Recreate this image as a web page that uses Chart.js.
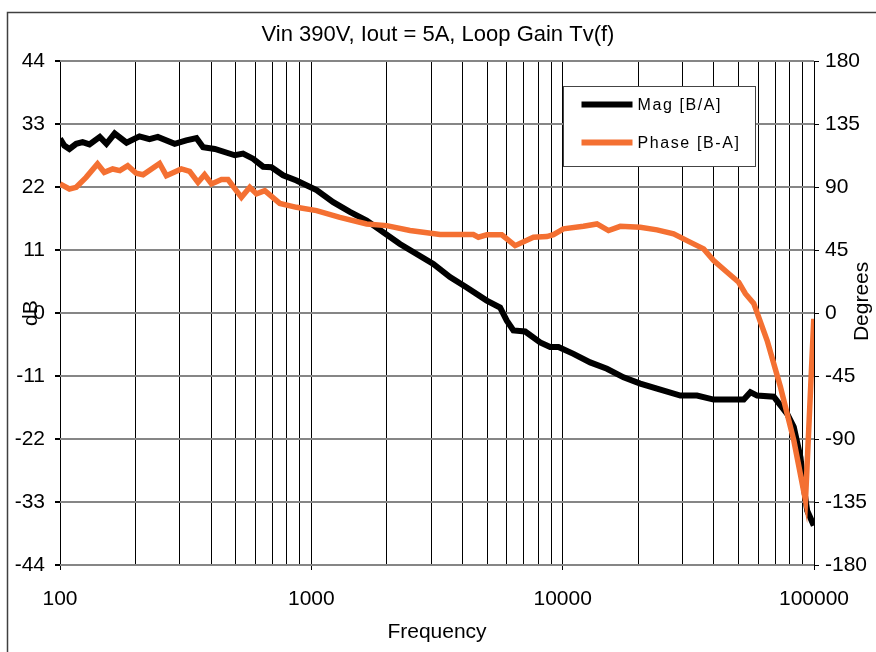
<!DOCTYPE html>
<html>
<head>
<meta charset="utf-8">
<script src="https://cdn.jsdelivr.net/npm/chart.js@4.4.1/dist/chart.umd.min.js"></script>
<style>
  html, body { margin: 0; padding: 0; background: #fff; }
  canvas { display: block; }
</style>
</head>
<body>
<canvas id="loopGain" width="876" height="652"></canvas>
<script>
// Loop gain Tv(f), Vin 390V, Iout 5A

const magFreq = [100, 104, 109, 116, 123, 131, 144, 153, 165, 184,
	207, 227, 245, 286, 318, 349, 371, 413, 496, 535,
	586, 643, 694, 772, 873, 1049, 1222, 1424, 1660, 2252,
	3057, 3563, 4153, 4989, 5636, 5995, 6368, 7090, 8137, 8917,
	9622, 11040, 12870, 15000, 17470, 20360, 23730, 29390, 34240, 39880,
	52530, 55850, 59380, 69150, 78200, 83100, 88370, 91080, 93960, 99800];
const magDb = [30.5, 29.3, 28.7, 29.6, 29.9, 29.5, 30.8, 29.6, 31.4, 29.8,
	30.9, 30.4, 30.8, 29.6, 30.2, 30.6, 29.0, 28.7, 27.6, 27.9,
	27.0, 25.6, 25.5, 24.1, 23.2, 21.5, 19.4, 17.7, 16.2, 12.1,
	8.6, 6.3, 4.5, 2.2, 1.0, -1.3, -3.0, -3.2, -5.1, -5.9,
	-5.9, -7.1, -8.6, -9.7, -11.2, -12.3, -13.2, -14.4, -14.4, -15.1,
	-15.1, -13.8, -14.4, -14.6, -17.6, -19.9, -25.2, -30.4, -34.5, -37.1];

const phaseFreq = [100, 109, 116, 127, 141, 150, 162, 173, 186, 201,
	214, 249, 265, 304, 328, 354, 376, 401, 439, 466,
	527, 569, 605, 653, 749, 873, 1049, 1299, 1660, 1994,
	2469, 3251, 4413, 4619, 4989, 5726, 6469, 7649, 8651, 9190,
	10070, 12100, 13690, 15220, 16950, 20360, 23730, 27630, 31240, 36390,
	39880, 45110, 50170, 53340, 57570, 65100, 73550, 83100, 92500, 99800];
const phaseDeg = [92.4, 88.8, 90.0, 97.1, 106.7, 100.7, 103.1, 101.9, 105.5, 100.0,
	99.0, 107.1, 98.3, 103.1, 101.4, 93.5, 99.0, 92.4, 95.5, 95.5,
	82.8, 90.0, 85.3, 87.6, 78.5, 75.7, 73.3, 68.5, 63.8, 62.6,
	59.1, 56.2, 56.2, 54.3, 56.0, 56.0, 48.3, 54.3, 54.8, 56.2,
	60.3, 62.1, 63.8, 59.1, 62.1, 61.4, 59.6, 56.7, 51.9, 46.0,
	37.6, 29.3, 22.1, 13.9, 7.0, -19.5, -52.8, -90.9, -133.8, -4.0];

const freqDecades = [100, 1000, 10000, 100000];
const dbTicks = [-44, -33, -22, -11, 0, 11, 22, 33, 44];
const degTicks = [-180, -135, -90, -45, 0, 45, 90, 135, 180];

const FONT = '"Liberation Sans", Arial, sans-serif';
const ORANGE = "#F47032";

Chart.defaults.font.family = FONT;
Chart.defaults.font.size = 21;
Chart.defaults.color = "#000";

const extrasPlugin = {
	id: "extras",
	afterDraw(chart) {
		const ctx = chart.ctx;
		const area = chart.chartArea;

		// outer frame
		ctx.save();
		ctx.strokeStyle = "#404040";
		ctx.lineWidth = 1.5;
		ctx.beginPath();
		ctx.moveTo(7.5, chart.height);
		ctx.lineTo(7.5, 12.5);
		ctx.lineTo(chart.width, 12.5);
		ctx.stroke();
		ctx.restore();

		// right axis title, reads bottom to top
		ctx.save();
		ctx.font = "21px " + FONT;
		ctx.fillStyle = "#000";
		ctx.textAlign = "center";
		ctx.textBaseline = "middle";
		ctx.translate(area.right + 48, area.top + 240);
		ctx.rotate(-Math.PI / 2);
		ctx.fillText("Degrees", 0, 0);
		ctx.restore();

		// legend box
		const bx = 563.5, by = 86.5, bw = 192, bh = 80;
		ctx.save();
		ctx.fillStyle = "#fff";
		ctx.strokeStyle = "#444";
		ctx.lineWidth = 1;
		ctx.fillRect(bx, by, bw, bh);
		ctx.strokeRect(bx, by, bw, bh);
		ctx.font = "16px " + FONT;
		ctx.letterSpacing = "1.6px";
		ctx.textBaseline = "middle";
		ctx.fillStyle = "#000";
		chart.data.datasets.forEach((ds, i) => {
			const y = by + 18 + i * 38;
			ctx.strokeStyle = ds.borderColor;
			ctx.lineWidth = 6;
			ctx.beginPath();
			ctx.moveTo(bx + 18, y);
			ctx.lineTo(bx + 69, y);
			ctx.stroke();
			ctx.fillText(ds.label, bx + 74, y + 1);
		});
		ctx.restore();
	},
};

const loopGainData = {
	datasets: [
		{
			label: "Mag [B/A]",
			data: magFreq.map((f, i) => ({ x: f, y: magDb[i] })),
			yAxisID: "y",
			borderColor: "#000",
			borderWidth: 6,
			pointRadius: 0,
			order: 1,
		},
		{
			label: "Phase [B-A]",
			data: phaseFreq.map((f, i) => ({ x: f, y: phaseDeg[i] })),
			yAxisID: "y1",
			borderColor: ORANGE,
			borderWidth: 5.5,
			pointRadius: 0,
			order: 0,
		},
	],
};

const loopGainConfig = {
	type: "line",
	data: loopGainData,
	plugins: [extrasPlugin],
	options: {
		responsive: false,
		animation: false,
		devicePixelRatio: 1,
		layout: { padding: 0 },
		plugins: {
			legend: { display: false },
			tooltip: { enabled: false },
			title: {
				display: true,
				text: "Vin 390V, Iout = 5A, Loop Gain Tv(f)",
				font: { size: 22, weight: "normal" },
				color: "#000",
				padding: { top: 22, bottom: 13 },
			},
		},
		scales: {
			x: {
				type: "logarithmic",
				min: 100,
				max: 100000,
				afterBuildTicks(scale) {
					const ticks = [];
					freqDecades.forEach((d, i) => {
						const top = i === freqDecades.length - 1 ? 1 : 9;
						for (let m = 1; m <= top; m++) ticks.push({ value: m * d });
					});
					scale.ticks = ticks;
				},
				afterFit(scale) { scale.height = 87; },
				ticks: {
					autoSkip: false,
					maxRotation: 0,
					padding: 17,
					callback: (v) => (freqDecades.includes(v) ? String(v) : ""),
				},
				grid: {
					color: "#000",
					lineWidth: 1,
					tickLength: 5,
					tickColor: (c) => (c.tick && freqDecades.includes(c.tick.value) ? "#000" : "rgba(0,0,0,0)"),
				},
				border: { display: false },
				title: {
					display: true,
					text: "Frequency",
					padding: { top: 0, bottom: 7 },
				},
			},
			y: {
				position: "left",
				min: -44,
				max: 44,
				afterBuildTicks(scale) { scale.ticks = dbTicks.map((v) => ({ value: v })); },
				afterFit(scale) { scale.width = 60; },
				ticks: { padding: 10 },
				grid: { color: "#868686", lineWidth: 2, tickLength: 5, tickColor: "#000" },
				border: { display: false },
				title: {
					display: true,
					text: "dB",
					padding: { top: 19, bottom: 0 },
				},
			},
			y1: {
				position: "right",
				min: -180,
				max: 180,
				afterBuildTicks(scale) { scale.ticks = degTicks.map((v) => ({ value: v })); },
				afterFit(scale) { scale.width = 62; },
				ticks: { padding: 6 },
				grid: { drawOnChartArea: false, tickLength: 5, color: "#000" },
				border: { display: false },
			},
		},
	},
};

const loopGainChart = new Chart(
	document.getElementById("loopGain"),
	loopGainConfig
);
</script>
</body>
</html>
